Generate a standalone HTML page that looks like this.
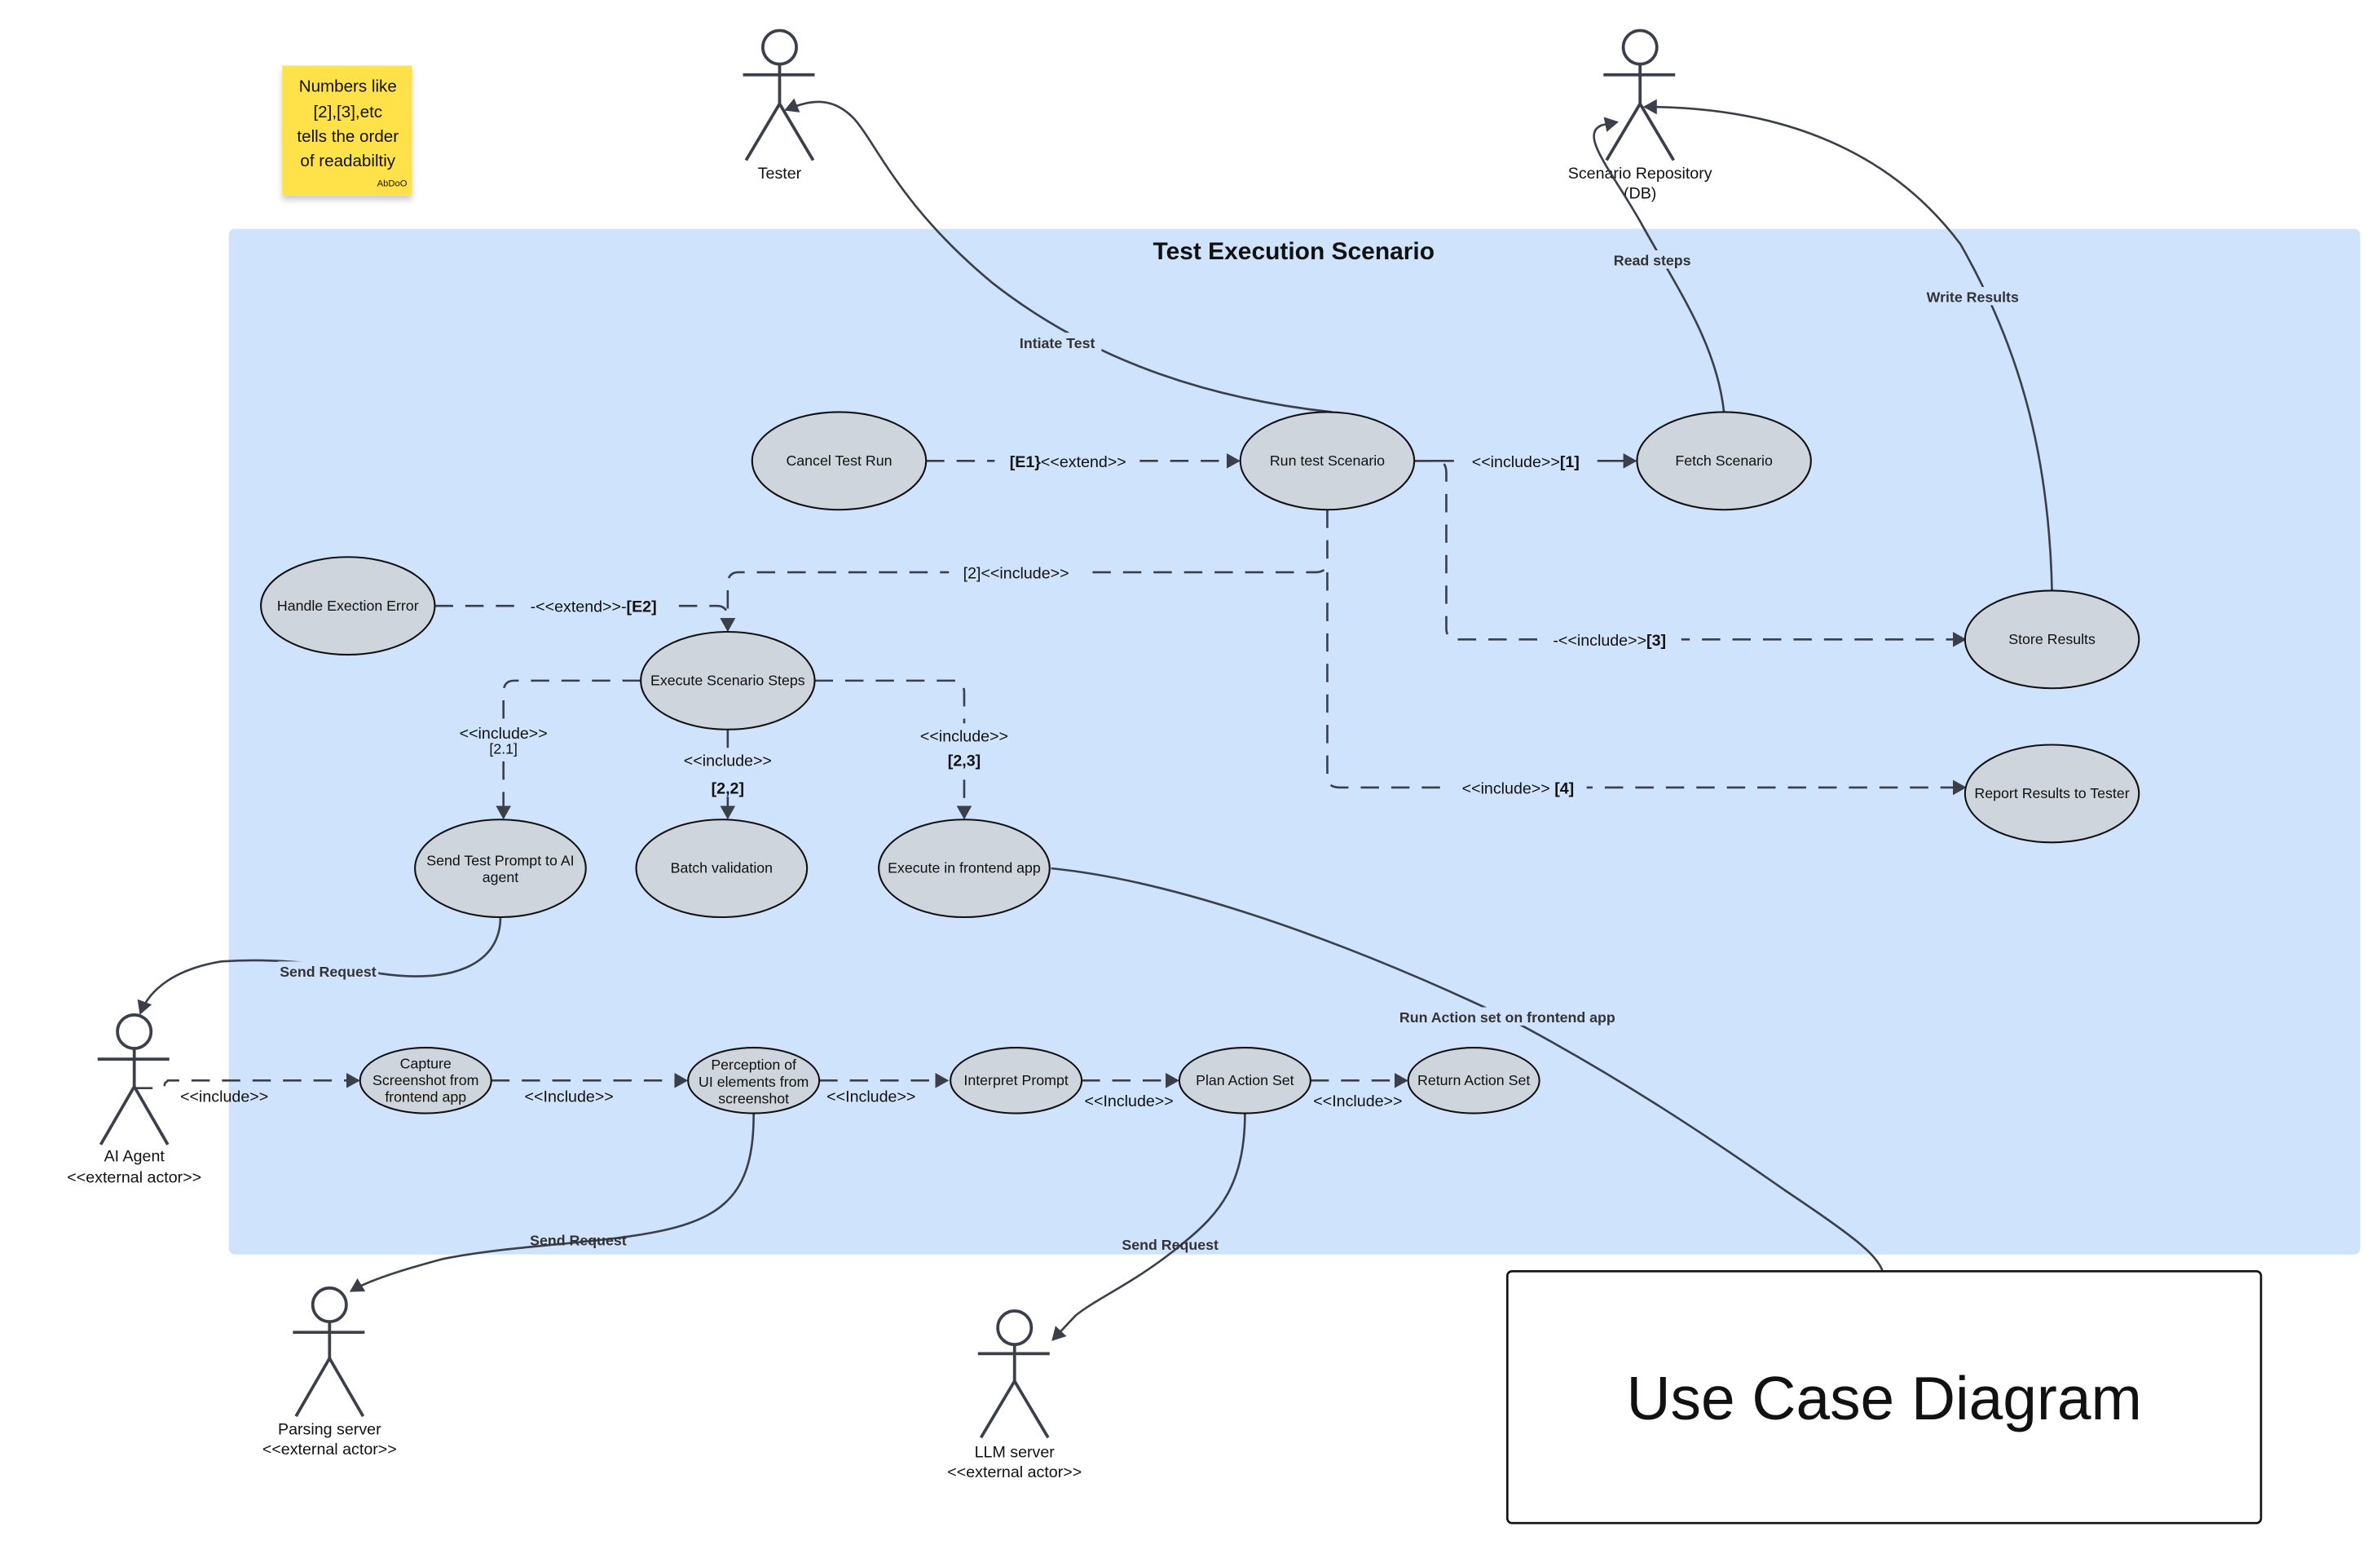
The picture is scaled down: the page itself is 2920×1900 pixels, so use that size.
<!DOCTYPE html>
<html><head><meta charset="utf-8"><style>
html,body{margin:0;padding:0;background:#fff;}
svg{display:block}
text{font-family:"Liberation Sans",sans-serif;fill:#111}
.uc{fill:#cfd5dd;stroke:#111;stroke-width:1.1}
.ln{fill:none;stroke:#3a3f4a;stroke-width:1.4}
.ds{fill:none;stroke:#3a3f4a;stroke-width:1.4;stroke-dasharray:12 8}
.act{fill:none;stroke:#3a3f4a;stroke-width:2}
.lb{font-size:9.5px;text-anchor:middle}
.cl{font-size:10.5px;text-anchor:middle}
.bl{font-size:9.5px;font-weight:bold;text-anchor:middle;fill:#333}
</style></head><body>
<svg width="2920" height="1900" viewBox="0 0 1560 1015" preserveAspectRatio="none" xmlns="http://www.w3.org/2000/svg">
<defs>
<marker id="a" markerWidth="10" markerHeight="10" refX="8" refY="5" orient="auto" markerUnits="userSpaceOnUse"><path d="M0,0 L9,5 L0,10 z" fill="#3a3f4a"/></marker>
<filter id="sh" x="-20%" y="-20%" width="140%" height="150%"><feDropShadow dx="0" dy="3" stdDeviation="2" flood-color="#000" flood-opacity="0.2"/></filter>
</defs>
<rect width="1560" height="1015" fill="#fff"/>
<rect x="185" y="43" width="85" height="85" fill="#ffe14a" filter="url(#sh)"/>
<text x="228" y="60" font-size="11" text-anchor="middle">Numbers like</text>
<text x="228" y="77" font-size="11" text-anchor="middle">[2],[3],etc</text>
<text x="228" y="93" font-size="11" text-anchor="middle">tells the order</text>
<text x="228" y="109" font-size="11" text-anchor="middle">of readabiltiy</text>
<text x="257" y="122" font-size="6" text-anchor="middle">AbDoO</text>
<rect x="150" y="150" width="1397" height="672" rx="4" fill="#cfe3fd"/>
<text x="848" y="170" font-size="16" font-weight="bold" text-anchor="middle">Test Execution Scenario</text>

<g class="act">
<circle cx="511" cy="31" r="11"/><line x1="487" y1="49" x2="534" y2="49"/><line x1="511" y1="42" x2="511" y2="68"/><line x1="511" y1="68" x2="489" y2="105"/><line x1="511" y1="68" x2="533" y2="105"/>
<circle cx="1075" cy="31" r="11"/><line x1="1051" y1="49" x2="1098" y2="49"/><line x1="1075" y1="42" x2="1075" y2="68"/><line x1="1075" y1="68" x2="1053" y2="105"/><line x1="1075" y1="68" x2="1097" y2="105"/>
<circle cx="88" cy="676" r="11"/><line x1="64" y1="694" x2="111" y2="694"/><line x1="88" y1="687" x2="88" y2="712"/><line x1="88" y1="712" x2="66" y2="750"/><line x1="88" y1="712" x2="110" y2="750"/>
<circle cx="216" cy="855" r="11"/><line x1="192" y1="873" x2="239" y2="873"/><line x1="216" y1="866" x2="216" y2="890"/><line x1="216" y1="890" x2="194" y2="928"/><line x1="216" y1="890" x2="238" y2="928"/>
<circle cx="665" cy="870" r="11"/><line x1="641" y1="887" x2="688" y2="887"/><line x1="665" y1="881" x2="665" y2="905"/><line x1="665" y1="905" x2="643" y2="942"/><line x1="665" y1="905" x2="687" y2="942"/>
</g>
<text class="cl" x="511" y="117">Tester</text>
<text class="cl" x="1075" y="117">Scenario Repository</text>
<text class="cl" x="1075" y="130">(DB)</text>
<text class="cl" x="88" y="761">AI Agent</text>
<text class="cl" x="88" y="775">&lt;&lt;external actor&gt;&gt;</text>
<text class="cl" x="216" y="940">Parsing server</text>
<text class="cl" x="216" y="953">&lt;&lt;external actor&gt;&gt;</text>
<text class="cl" x="665" y="955">LLM server</text>
<text class="cl" x="665" y="968">&lt;&lt;external actor&gt;&gt;</text>

<path class="ln" d="M873,270 C800,262 720,240 650,185 C590,135 575,95 560,78 C545,62 530,66 515,72" marker-end="url(#a)"/>
<path class="ln" d="M1130,270 C1125,225 1100,190 1075,145 C1055,110 1035,88 1050,82 L1060,80" marker-end="url(#a)"/>
<path class="ln" d="M1345,387 C1343,300 1325,230 1285,160 C1240,100 1170,70 1078,70" marker-end="url(#a)"/>
<path class="ln" d="M328,601 C328,630 300,645 250,638 C205,630 175,628 145,630 C115,635 98,648 92,664" marker-end="url(#a)"/>
<path class="ln" d="M689,569 C780,578 900,625 990,668 C1060,705 1120,745 1170,780 C1215,810 1230,822 1234,833"/>
<path class="ln" d="M494,730 C494,775 480,795 440,805 C400,815 340,815 290,825 C260,833 240,840 230,846" marker-end="url(#a)"/>
<path class="ln" d="M816,730 C816,775 800,795 775,815 C745,840 720,850 705,862 L690,878" marker-end="url(#a)"/>
<rect x="664" y="218" width="58" height="12" fill="#cfe3fd"/><text class="bl" x="693" y="228">Intiate Test</text>
<rect x="1055" y="164" width="56" height="12" fill="#cfe3fd"/><text class="bl" x="1083" y="174">Read steps</text>
<rect x="1258" y="188" width="70" height="12" fill="#cfe3fd"/><text class="bl" x="1293" y="198">Write Results</text>
<rect x="182" y="630" width="66" height="12" fill="#cfe3fd"/><text class="bl" x="215" y="640">Send Request</text>
<rect x="912" y="660" width="152" height="12" fill="#cfe3fd"/><text class="bl" x="988" y="670">Run Action set on frontend app</text>
<text class="bl" x="379" y="816">Send Request</text>
<text class="bl" x="767" y="819">Send Request</text>

<path class="ds" d="M607,302 L812,302" marker-end="url(#a)"/>
<rect x="652" y="295" width="95" height="14" fill="#cfe3fd"/><text class="cl" x="700" y="306"><tspan font-weight="bold">[E1}</tspan>&lt;&lt;extend&gt;&gt;</text>
<path class="ln" d="M927,302 L1072,302" marker-end="url(#a)"/>
<rect x="953" y="295" width="94" height="14" fill="#cfe3fd"/><text class="cl" x="1000" y="306">&lt;&lt;include&gt;&gt;<tspan font-weight="bold">[1]</tspan></text>
<path class="ds" d="M927,302 L942,302 Q948,302 948,310 L948,412 Q948,419 956,419 L1288,419" marker-end="url(#a)"/>
<rect x="1010" y="412" width="92" height="14" fill="#cfe3fd"/><text class="cl" x="1055" y="423">-&lt;&lt;include&gt;&gt;<tspan font-weight="bold">[3]</tspan></text>
<path class="ds" d="M870,334 L870,368 Q870,375 862,375 L484,375 Q477,375 477,383 L477,413" marker-end="url(#a)"/>
<rect x="622" y="368" width="88" height="14" fill="#cfe3fd"/><text class="cl" x="666" y="379">[2]&lt;&lt;include&gt;&gt;</text>
<path class="ds" d="M870,375 L870,509 Q870,516 878,516 L1288,516" marker-end="url(#a)"/>
<rect x="950" y="509" width="90" height="14" fill="#cfe3fd"/><text class="cl" x="995" y="520">&lt;&lt;include&gt;&gt; <tspan font-weight="bold">[4]</tspan></text>
<path class="ds" d="M285,397 L470,397 Q477,397 477,405 L477,413" marker-end="url(#a)"/>
<rect x="340" y="390" width="98" height="14" fill="#cfe3fd"/><text class="cl" x="389" y="401">-&lt;&lt;extend&gt;&gt;-<tspan font-weight="bold">[E2]</tspan></text>
<path class="ds" d="M420,446 L337,446 Q330,446 330,454 L330,536" marker-end="url(#a)"/>
<rect x="295" y="474" width="70" height="22" fill="#cfe3fd"/><text class="cl" x="330" y="484">&lt;&lt;include&gt;&gt;</text><text class="lb" x="330" y="494" font-size="9">[2.1]</text>
<path class="ln" d="M477,478 L477,536" marker-end="url(#a)"/>
<rect x="440" y="490" width="74" height="32" fill="#cfe3fd"/><text class="cl" x="477" y="502">&lt;&lt;include&gt;&gt;</text><text class="cl" x="477" y="520" font-weight="bold">[2,2]</text>
<path class="ds" d="M534,446 L625,446 Q632,446 632,454 L632,536" marker-end="url(#a)"/>
<rect x="597" y="474" width="72" height="32" fill="#cfe3fd"/><text class="cl" x="632" y="486">&lt;&lt;include&gt;&gt;</text><text class="cl" x="632" y="502" font-weight="bold">[2,3]</text>

<path class="ds" d="M88,713 L104,713 Q108,713 108,710 L110,708 L235,708" marker-end="url(#a)"/>
<text class="cl" x="147" y="722">&lt;&lt;include&gt;&gt;</text>
<path class="ds" d="M322,708 L450,708" marker-end="url(#a)"/>
<text class="cl" x="373" y="722">&lt;&lt;Include&gt;&gt;</text>
<path class="ds" d="M537,708 L621,708" marker-end="url(#a)"/>
<text class="cl" x="571" y="722">&lt;&lt;Include&gt;&gt;</text>
<path class="ds" d="M709,708 L772,708" marker-end="url(#a)"/>
<text class="cl" x="740" y="725">&lt;&lt;Include&gt;&gt;</text>
<path class="ds" d="M859,708 L922,708" marker-end="url(#a)"/>
<text class="cl" x="890" y="725">&lt;&lt;Include&gt;&gt;</text>

<ellipse class="uc" cx="550" cy="302" rx="57" ry="32"/><text class="lb" x="550" y="305">Cancel Test Run</text>
<ellipse class="uc" cx="870" cy="302" rx="57" ry="32"/><text class="lb" x="870" y="305">Run test Scenario</text>
<ellipse class="uc" cx="1130" cy="302" rx="57" ry="32"/><text class="lb" x="1130" y="305">Fetch Scenario</text>
<ellipse class="uc" cx="228" cy="397" rx="57" ry="32"/><text class="lb" x="228" y="400">Handle Exection Error</text>
<ellipse class="uc" cx="477" cy="446" rx="57" ry="32"/><text class="lb" x="477" y="449">Execute Scenario Steps</text>
<ellipse class="uc" cx="1345" cy="419" rx="57" ry="32"/><text class="lb" x="1345" y="422">Store Results</text>
<ellipse class="uc" cx="1345" cy="520" rx="57" ry="32"/><text class="lb" x="1345" y="523">Report Results to Tester</text>
<ellipse class="uc" cx="328" cy="569" rx="56" ry="32"/><text class="lb" x="328" y="567">Send Test Prompt to AI</text><text class="lb" x="328" y="578">agent</text>
<ellipse class="uc" cx="473" cy="569" rx="56" ry="32"/><text class="lb" x="473" y="572">Batch validation</text>
<ellipse class="uc" cx="632" cy="569" rx="56" ry="32"/><text class="lb" x="632" y="572">Execute in frontend app</text>
<ellipse class="uc" cx="279" cy="708" rx="43" ry="21.5"/><text class="lb" x="279" y="700" font-size="9">Capture</text><text class="lb" x="279" y="711" font-size="9">Screenshot from</text><text class="lb" x="279" y="722" font-size="9">frontend app</text>
<ellipse class="uc" cx="494" cy="708" rx="43" ry="21.5"/><text class="lb" x="494" y="701" font-size="9">Perception of</text><text class="lb" x="494" y="712" font-size="9">UI elements from</text><text class="lb" x="494" y="723" font-size="9">screenshot</text>
<ellipse class="uc" cx="666" cy="708" rx="43" ry="21.5"/><text class="lb" x="666" y="711" font-size="9">Interpret Prompt</text>
<ellipse class="uc" cx="816" cy="708" rx="43" ry="21.5"/><text class="lb" x="816" y="711" font-size="9">Plan Action Set</text>
<ellipse class="uc" cx="966" cy="708" rx="43" ry="21.5"/><text class="lb" x="966" y="711" font-size="9">Return Action Set</text>

<rect x="988" y="833" width="494" height="165" rx="3" fill="#fff" stroke="#111" stroke-width="1.4"/>
<text x="1235" y="930" font-size="40" text-anchor="middle">Use Case Diagram</text>
</svg>
</body></html>
